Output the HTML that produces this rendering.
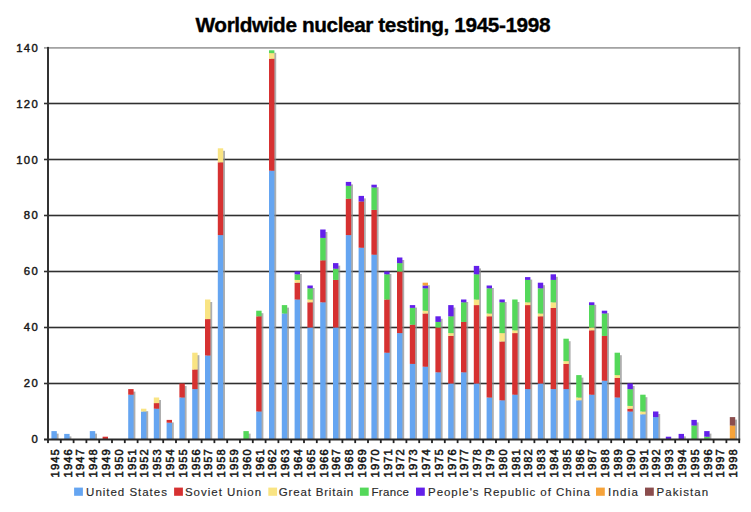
<!DOCTYPE html><html><head><meta charset="utf-8"><style>html,body{margin:0;padding:0;background:#fff;}svg{display:block;}text{font-family:"Liberation Sans",sans-serif;}</style></head><body>
<svg width="751" height="512" viewBox="0 0 751 512">
<rect width="751" height="512" fill="#fff"/>
<text x="195.5" y="31.8" font-size="20.8" font-weight="bold" fill="#000" stroke="#000" stroke-width="0.35" textLength="355" lengthAdjust="spacing">Worldwide nuclear testing, 1945-1998</text>
<rect x="44" y="382.70" width="696.20" height="1.6" fill="#303030"/>
<rect x="44" y="326.70" width="696.20" height="1.6" fill="#303030"/>
<rect x="44" y="270.70" width="696.20" height="1.6" fill="#303030"/>
<rect x="44" y="214.70" width="696.20" height="1.6" fill="#303030"/>
<rect x="44" y="158.70" width="696.20" height="1.6" fill="#303030"/>
<rect x="44" y="102.70" width="696.20" height="1.6" fill="#303030"/>
<rect x="44" y="47.10" width="696.20" height="1.6" fill="#9a9a9a"/>
<rect x="738.4" y="46.9" width="1.8" height="392.60" fill="#777"/>
<defs><clipPath id="pc"><rect x="0" y="0" width="751" height="439.50"/></clipPath><filter id="bl" x="-50%" y="-5%" width="200%" height="110%"><feGaussianBlur stdDeviation="0.6"/></filter></defs>
<g clip-path="url(#pc)">
<rect x="53.20" y="433.60" width="5.40" height="8.40" fill="#8c8c8c" opacity="0.7" filter="url(#bl)"/>
<rect x="51.40" y="431.10" width="5.40" height="8.40" fill="#65a5f1"/>
<rect x="66.00" y="436.40" width="5.40" height="5.60" fill="#8c8c8c" opacity="0.7" filter="url(#bl)"/>
<rect x="64.20" y="433.90" width="5.40" height="5.60" fill="#65a5f1"/>
<rect x="91.60" y="433.60" width="5.40" height="8.40" fill="#8c8c8c" opacity="0.7" filter="url(#bl)"/>
<rect x="89.80" y="431.10" width="5.40" height="8.40" fill="#65a5f1"/>
<rect x="104.40" y="439.20" width="5.40" height="2.80" fill="#8c8c8c" opacity="0.7" filter="url(#bl)"/>
<rect x="102.60" y="436.70" width="5.40" height="2.80" fill="#d63131"/>
<rect x="130.00" y="391.60" width="5.40" height="50.40" fill="#8c8c8c" opacity="0.7" filter="url(#bl)"/>
<rect x="128.20" y="394.70" width="5.40" height="44.80" fill="#65a5f1"/>
<rect x="128.20" y="389.10" width="5.40" height="5.60" fill="#d63131"/>
<rect x="142.80" y="411.20" width="5.40" height="30.80" fill="#8c8c8c" opacity="0.7" filter="url(#bl)"/>
<rect x="141.00" y="411.50" width="5.40" height="28.00" fill="#65a5f1"/>
<rect x="141.00" y="408.70" width="5.40" height="2.80" fill="#f9e483"/>
<rect x="155.60" y="400.00" width="5.40" height="42.00" fill="#8c8c8c" opacity="0.7" filter="url(#bl)"/>
<rect x="153.80" y="408.70" width="5.40" height="30.80" fill="#65a5f1"/>
<rect x="153.80" y="403.10" width="5.40" height="5.60" fill="#d63131"/>
<rect x="153.80" y="397.50" width="5.40" height="5.60" fill="#f9e483"/>
<rect x="168.40" y="422.40" width="5.40" height="19.60" fill="#8c8c8c" opacity="0.7" filter="url(#bl)"/>
<rect x="166.60" y="422.70" width="5.40" height="16.80" fill="#65a5f1"/>
<rect x="166.60" y="419.90" width="5.40" height="2.80" fill="#d63131"/>
<rect x="181.20" y="386.00" width="5.40" height="56.00" fill="#8c8c8c" opacity="0.7" filter="url(#bl)"/>
<rect x="179.40" y="397.50" width="5.40" height="42.00" fill="#65a5f1"/>
<rect x="179.40" y="383.50" width="5.40" height="14.00" fill="#d63131"/>
<rect x="194.00" y="355.20" width="5.40" height="86.80" fill="#8c8c8c" opacity="0.7" filter="url(#bl)"/>
<rect x="192.20" y="389.10" width="5.40" height="50.40" fill="#65a5f1"/>
<rect x="192.20" y="369.50" width="5.40" height="19.60" fill="#d63131"/>
<rect x="192.20" y="352.70" width="5.40" height="16.80" fill="#f9e483"/>
<rect x="206.80" y="302.00" width="5.40" height="140.00" fill="#8c8c8c" opacity="0.7" filter="url(#bl)"/>
<rect x="205.00" y="355.50" width="5.40" height="84.00" fill="#65a5f1"/>
<rect x="205.00" y="319.10" width="5.40" height="36.40" fill="#d63131"/>
<rect x="205.00" y="299.50" width="5.40" height="19.60" fill="#f9e483"/>
<rect x="219.60" y="150.80" width="5.40" height="291.20" fill="#8c8c8c" opacity="0.7" filter="url(#bl)"/>
<rect x="217.80" y="235.10" width="5.40" height="204.40" fill="#65a5f1"/>
<rect x="217.80" y="162.30" width="5.40" height="72.80" fill="#d63131"/>
<rect x="217.80" y="148.30" width="5.40" height="14.00" fill="#f9e483"/>
<rect x="245.20" y="433.60" width="5.40" height="8.40" fill="#8c8c8c" opacity="0.7" filter="url(#bl)"/>
<rect x="243.40" y="431.10" width="5.40" height="8.40" fill="#54d85a"/>
<rect x="258.00" y="313.20" width="5.40" height="128.80" fill="#8c8c8c" opacity="0.7" filter="url(#bl)"/>
<rect x="256.20" y="411.50" width="5.40" height="28.00" fill="#65a5f1"/>
<rect x="256.20" y="316.30" width="5.40" height="95.20" fill="#d63131"/>
<rect x="256.20" y="310.70" width="5.40" height="5.60" fill="#54d85a"/>
<rect x="270.80" y="52.80" width="5.40" height="389.20" fill="#8c8c8c" opacity="0.7" filter="url(#bl)"/>
<rect x="269.00" y="170.70" width="5.40" height="268.80" fill="#65a5f1"/>
<rect x="269.00" y="58.70" width="5.40" height="112.00" fill="#d63131"/>
<rect x="269.00" y="53.10" width="5.40" height="5.60" fill="#f9e483"/>
<rect x="269.00" y="50.30" width="5.40" height="2.80" fill="#54d85a"/>
<rect x="283.60" y="307.60" width="5.40" height="134.40" fill="#8c8c8c" opacity="0.7" filter="url(#bl)"/>
<rect x="281.80" y="313.50" width="5.40" height="126.00" fill="#65a5f1"/>
<rect x="281.80" y="305.10" width="5.40" height="8.40" fill="#54d85a"/>
<rect x="296.40" y="274.00" width="5.40" height="168.00" fill="#8c8c8c" opacity="0.7" filter="url(#bl)"/>
<rect x="294.60" y="299.50" width="5.40" height="140.00" fill="#65a5f1"/>
<rect x="294.60" y="282.70" width="5.40" height="16.80" fill="#d63131"/>
<rect x="294.60" y="279.90" width="5.40" height="2.80" fill="#f9e483"/>
<rect x="294.60" y="274.30" width="5.40" height="5.60" fill="#54d85a"/>
<rect x="294.60" y="271.50" width="5.40" height="2.80" fill="#6320ea"/>
<rect x="309.20" y="288.00" width="5.40" height="154.00" fill="#8c8c8c" opacity="0.7" filter="url(#bl)"/>
<rect x="307.40" y="327.50" width="5.40" height="112.00" fill="#65a5f1"/>
<rect x="307.40" y="302.30" width="5.40" height="25.20" fill="#d63131"/>
<rect x="307.40" y="299.50" width="5.40" height="2.80" fill="#f9e483"/>
<rect x="307.40" y="288.30" width="5.40" height="11.20" fill="#54d85a"/>
<rect x="307.40" y="285.50" width="5.40" height="2.80" fill="#6320ea"/>
<rect x="322.00" y="232.00" width="5.40" height="210.00" fill="#8c8c8c" opacity="0.7" filter="url(#bl)"/>
<rect x="320.20" y="302.30" width="5.40" height="137.20" fill="#65a5f1"/>
<rect x="320.20" y="260.30" width="5.40" height="42.00" fill="#d63131"/>
<rect x="320.20" y="237.90" width="5.40" height="22.40" fill="#54d85a"/>
<rect x="320.20" y="229.50" width="5.40" height="8.40" fill="#6320ea"/>
<rect x="334.80" y="265.60" width="5.40" height="176.40" fill="#8c8c8c" opacity="0.7" filter="url(#bl)"/>
<rect x="333.00" y="327.50" width="5.40" height="112.00" fill="#65a5f1"/>
<rect x="333.00" y="279.90" width="5.40" height="47.60" fill="#d63131"/>
<rect x="333.00" y="268.70" width="5.40" height="11.20" fill="#54d85a"/>
<rect x="333.00" y="263.10" width="5.40" height="5.60" fill="#6320ea"/>
<rect x="347.60" y="184.40" width="5.40" height="257.60" fill="#8c8c8c" opacity="0.7" filter="url(#bl)"/>
<rect x="345.80" y="235.10" width="5.40" height="204.40" fill="#65a5f1"/>
<rect x="345.80" y="198.70" width="5.40" height="36.40" fill="#d63131"/>
<rect x="345.80" y="185.82" width="5.40" height="12.88" fill="#54d85a"/>
<rect x="345.80" y="181.90" width="5.40" height="3.92" fill="#6320ea"/>
<rect x="360.40" y="198.40" width="5.40" height="243.60" fill="#8c8c8c" opacity="0.7" filter="url(#bl)"/>
<rect x="358.60" y="247.70" width="5.40" height="191.80" fill="#65a5f1"/>
<rect x="358.60" y="201.50" width="5.40" height="46.20" fill="#d63131"/>
<rect x="358.60" y="195.90" width="5.40" height="5.60" fill="#6320ea"/>
<rect x="373.20" y="187.20" width="5.40" height="254.80" fill="#8c8c8c" opacity="0.7" filter="url(#bl)"/>
<rect x="371.40" y="254.70" width="5.40" height="184.80" fill="#65a5f1"/>
<rect x="371.40" y="209.90" width="5.40" height="44.80" fill="#d63131"/>
<rect x="371.40" y="187.50" width="5.40" height="22.40" fill="#54d85a"/>
<rect x="371.40" y="184.70" width="5.40" height="2.80" fill="#6320ea"/>
<rect x="386.00" y="274.00" width="5.40" height="168.00" fill="#8c8c8c" opacity="0.7" filter="url(#bl)"/>
<rect x="384.20" y="352.70" width="5.40" height="86.80" fill="#65a5f1"/>
<rect x="384.20" y="299.50" width="5.40" height="53.20" fill="#d63131"/>
<rect x="384.20" y="274.30" width="5.40" height="25.20" fill="#54d85a"/>
<rect x="384.20" y="271.50" width="5.40" height="2.80" fill="#6320ea"/>
<rect x="398.80" y="260.00" width="5.40" height="182.00" fill="#8c8c8c" opacity="0.7" filter="url(#bl)"/>
<rect x="397.00" y="333.10" width="5.40" height="106.40" fill="#65a5f1"/>
<rect x="397.00" y="271.50" width="5.40" height="61.60" fill="#d63131"/>
<rect x="397.00" y="263.10" width="5.40" height="8.40" fill="#54d85a"/>
<rect x="397.00" y="257.50" width="5.40" height="5.60" fill="#6320ea"/>
<rect x="411.60" y="307.60" width="5.40" height="134.40" fill="#8c8c8c" opacity="0.7" filter="url(#bl)"/>
<rect x="409.80" y="363.90" width="5.40" height="75.60" fill="#65a5f1"/>
<rect x="409.80" y="324.70" width="5.40" height="39.20" fill="#d63131"/>
<rect x="409.80" y="307.90" width="5.40" height="16.80" fill="#54d85a"/>
<rect x="409.80" y="305.10" width="5.40" height="2.80" fill="#6320ea"/>
<rect x="424.40" y="285.20" width="5.40" height="156.80" fill="#8c8c8c" opacity="0.7" filter="url(#bl)"/>
<rect x="422.60" y="366.70" width="5.40" height="72.80" fill="#65a5f1"/>
<rect x="422.60" y="313.50" width="5.40" height="53.20" fill="#d63131"/>
<rect x="422.60" y="310.70" width="5.40" height="2.80" fill="#f9e483"/>
<rect x="422.60" y="288.30" width="5.40" height="22.40" fill="#54d85a"/>
<rect x="422.60" y="285.50" width="5.40" height="2.80" fill="#6320ea"/>
<rect x="422.60" y="282.70" width="5.40" height="2.80" fill="#f6a33a"/>
<rect x="437.20" y="318.80" width="5.40" height="123.20" fill="#8c8c8c" opacity="0.7" filter="url(#bl)"/>
<rect x="435.40" y="372.30" width="5.40" height="67.20" fill="#65a5f1"/>
<rect x="435.40" y="327.50" width="5.40" height="44.80" fill="#d63131"/>
<rect x="435.40" y="321.90" width="5.40" height="5.60" fill="#54d85a"/>
<rect x="435.40" y="316.30" width="5.40" height="5.60" fill="#6320ea"/>
<rect x="450.00" y="307.60" width="5.40" height="134.40" fill="#8c8c8c" opacity="0.7" filter="url(#bl)"/>
<rect x="448.20" y="383.50" width="5.40" height="56.00" fill="#65a5f1"/>
<rect x="448.20" y="335.90" width="5.40" height="47.60" fill="#d63131"/>
<rect x="448.20" y="333.10" width="5.40" height="2.80" fill="#f9e483"/>
<rect x="448.20" y="316.30" width="5.40" height="16.80" fill="#54d85a"/>
<rect x="448.20" y="305.10" width="5.40" height="11.20" fill="#6320ea"/>
<rect x="462.80" y="302.00" width="5.40" height="140.00" fill="#8c8c8c" opacity="0.7" filter="url(#bl)"/>
<rect x="461.00" y="372.30" width="5.40" height="67.20" fill="#65a5f1"/>
<rect x="461.00" y="321.90" width="5.40" height="50.40" fill="#d63131"/>
<rect x="461.00" y="302.30" width="5.40" height="19.60" fill="#54d85a"/>
<rect x="461.00" y="299.50" width="5.40" height="2.80" fill="#6320ea"/>
<rect x="475.60" y="268.40" width="5.40" height="173.60" fill="#8c8c8c" opacity="0.7" filter="url(#bl)"/>
<rect x="473.80" y="383.50" width="5.40" height="56.00" fill="#65a5f1"/>
<rect x="473.80" y="305.10" width="5.40" height="78.40" fill="#d63131"/>
<rect x="473.80" y="299.50" width="5.40" height="5.60" fill="#f9e483"/>
<rect x="473.80" y="274.30" width="5.40" height="25.20" fill="#54d85a"/>
<rect x="473.80" y="265.90" width="5.40" height="8.40" fill="#6320ea"/>
<rect x="488.40" y="288.00" width="5.40" height="154.00" fill="#8c8c8c" opacity="0.7" filter="url(#bl)"/>
<rect x="486.60" y="397.50" width="5.40" height="42.00" fill="#65a5f1"/>
<rect x="486.60" y="316.30" width="5.40" height="81.20" fill="#d63131"/>
<rect x="486.60" y="313.50" width="5.40" height="2.80" fill="#f9e483"/>
<rect x="486.60" y="288.30" width="5.40" height="25.20" fill="#54d85a"/>
<rect x="486.60" y="285.50" width="5.40" height="2.80" fill="#6320ea"/>
<rect x="501.20" y="302.00" width="5.40" height="140.00" fill="#8c8c8c" opacity="0.7" filter="url(#bl)"/>
<rect x="499.40" y="400.30" width="5.40" height="39.20" fill="#65a5f1"/>
<rect x="499.40" y="341.50" width="5.40" height="58.80" fill="#d63131"/>
<rect x="499.40" y="333.10" width="5.40" height="8.40" fill="#f9e483"/>
<rect x="499.40" y="302.30" width="5.40" height="30.80" fill="#54d85a"/>
<rect x="499.40" y="299.50" width="5.40" height="2.80" fill="#6320ea"/>
<rect x="514.00" y="302.00" width="5.40" height="140.00" fill="#8c8c8c" opacity="0.7" filter="url(#bl)"/>
<rect x="512.20" y="394.70" width="5.40" height="44.80" fill="#65a5f1"/>
<rect x="512.20" y="333.10" width="5.40" height="61.60" fill="#d63131"/>
<rect x="512.20" y="330.30" width="5.40" height="2.80" fill="#f9e483"/>
<rect x="512.20" y="299.50" width="5.40" height="30.80" fill="#54d85a"/>
<rect x="526.80" y="279.60" width="5.40" height="162.40" fill="#8c8c8c" opacity="0.7" filter="url(#bl)"/>
<rect x="525.00" y="389.10" width="5.40" height="50.40" fill="#65a5f1"/>
<rect x="525.00" y="305.10" width="5.40" height="84.00" fill="#d63131"/>
<rect x="525.00" y="302.30" width="5.40" height="2.80" fill="#f9e483"/>
<rect x="525.00" y="279.90" width="5.40" height="22.40" fill="#54d85a"/>
<rect x="525.00" y="277.10" width="5.40" height="2.80" fill="#6320ea"/>
<rect x="539.60" y="285.20" width="5.40" height="156.80" fill="#8c8c8c" opacity="0.7" filter="url(#bl)"/>
<rect x="537.80" y="383.50" width="5.40" height="56.00" fill="#65a5f1"/>
<rect x="537.80" y="316.30" width="5.40" height="67.20" fill="#d63131"/>
<rect x="537.80" y="313.50" width="5.40" height="2.80" fill="#f9e483"/>
<rect x="537.80" y="288.30" width="5.40" height="25.20" fill="#54d85a"/>
<rect x="537.80" y="282.70" width="5.40" height="5.60" fill="#6320ea"/>
<rect x="552.40" y="276.80" width="5.40" height="165.20" fill="#8c8c8c" opacity="0.7" filter="url(#bl)"/>
<rect x="550.60" y="389.10" width="5.40" height="50.40" fill="#65a5f1"/>
<rect x="550.60" y="307.90" width="5.40" height="81.20" fill="#d63131"/>
<rect x="550.60" y="302.30" width="5.40" height="5.60" fill="#f9e483"/>
<rect x="550.60" y="279.90" width="5.40" height="22.40" fill="#54d85a"/>
<rect x="550.60" y="274.30" width="5.40" height="5.60" fill="#6320ea"/>
<rect x="565.20" y="341.20" width="5.40" height="100.80" fill="#8c8c8c" opacity="0.7" filter="url(#bl)"/>
<rect x="563.40" y="389.10" width="5.40" height="50.40" fill="#65a5f1"/>
<rect x="563.40" y="363.90" width="5.40" height="25.20" fill="#d63131"/>
<rect x="563.40" y="361.10" width="5.40" height="2.80" fill="#f9e483"/>
<rect x="563.40" y="338.70" width="5.40" height="22.40" fill="#54d85a"/>
<rect x="578.00" y="377.60" width="5.40" height="64.40" fill="#8c8c8c" opacity="0.7" filter="url(#bl)"/>
<rect x="576.20" y="400.30" width="5.40" height="39.20" fill="#65a5f1"/>
<rect x="576.20" y="397.50" width="5.40" height="2.80" fill="#f9e483"/>
<rect x="576.20" y="375.10" width="5.40" height="22.40" fill="#54d85a"/>
<rect x="590.80" y="304.80" width="5.40" height="137.20" fill="#8c8c8c" opacity="0.7" filter="url(#bl)"/>
<rect x="589.00" y="394.70" width="5.40" height="44.80" fill="#65a5f1"/>
<rect x="589.00" y="330.30" width="5.40" height="64.40" fill="#d63131"/>
<rect x="589.00" y="327.50" width="5.40" height="2.80" fill="#f9e483"/>
<rect x="589.00" y="305.10" width="5.40" height="22.40" fill="#54d85a"/>
<rect x="589.00" y="302.30" width="5.40" height="2.80" fill="#6320ea"/>
<rect x="603.60" y="313.20" width="5.40" height="128.80" fill="#8c8c8c" opacity="0.7" filter="url(#bl)"/>
<rect x="601.80" y="380.70" width="5.40" height="58.80" fill="#65a5f1"/>
<rect x="601.80" y="335.90" width="5.40" height="44.80" fill="#d63131"/>
<rect x="601.80" y="313.50" width="5.40" height="22.40" fill="#54d85a"/>
<rect x="601.80" y="310.70" width="5.40" height="2.80" fill="#6320ea"/>
<rect x="616.40" y="355.20" width="5.40" height="86.80" fill="#8c8c8c" opacity="0.7" filter="url(#bl)"/>
<rect x="614.60" y="397.50" width="5.40" height="42.00" fill="#65a5f1"/>
<rect x="614.60" y="377.90" width="5.40" height="19.60" fill="#d63131"/>
<rect x="614.60" y="375.10" width="5.40" height="2.80" fill="#f9e483"/>
<rect x="614.60" y="352.70" width="5.40" height="22.40" fill="#54d85a"/>
<rect x="629.20" y="386.00" width="5.40" height="56.00" fill="#8c8c8c" opacity="0.7" filter="url(#bl)"/>
<rect x="627.40" y="411.50" width="5.40" height="28.00" fill="#65a5f1"/>
<rect x="627.40" y="408.70" width="5.40" height="2.80" fill="#d63131"/>
<rect x="627.40" y="405.90" width="5.40" height="2.80" fill="#f9e483"/>
<rect x="627.40" y="389.10" width="5.40" height="16.80" fill="#54d85a"/>
<rect x="627.40" y="383.50" width="5.40" height="5.60" fill="#6320ea"/>
<rect x="642.00" y="397.20" width="5.40" height="44.80" fill="#8c8c8c" opacity="0.7" filter="url(#bl)"/>
<rect x="640.20" y="414.30" width="5.40" height="25.20" fill="#65a5f1"/>
<rect x="640.20" y="411.50" width="5.40" height="2.80" fill="#f9e483"/>
<rect x="640.20" y="394.70" width="5.40" height="16.80" fill="#54d85a"/>
<rect x="654.80" y="414.00" width="5.40" height="28.00" fill="#8c8c8c" opacity="0.7" filter="url(#bl)"/>
<rect x="653.00" y="417.10" width="5.40" height="22.40" fill="#65a5f1"/>
<rect x="653.00" y="411.50" width="5.40" height="5.60" fill="#6320ea"/>
<rect x="667.60" y="439.20" width="5.40" height="2.80" fill="#8c8c8c" opacity="0.7" filter="url(#bl)"/>
<rect x="665.80" y="436.70" width="5.40" height="2.80" fill="#6320ea"/>
<rect x="680.40" y="436.40" width="5.40" height="5.60" fill="#8c8c8c" opacity="0.7" filter="url(#bl)"/>
<rect x="678.60" y="433.90" width="5.40" height="5.60" fill="#6320ea"/>
<rect x="693.20" y="422.40" width="5.40" height="19.60" fill="#8c8c8c" opacity="0.7" filter="url(#bl)"/>
<rect x="691.40" y="425.50" width="5.40" height="14.00" fill="#54d85a"/>
<rect x="691.40" y="419.90" width="5.40" height="5.60" fill="#6320ea"/>
<rect x="706.00" y="433.60" width="5.40" height="8.40" fill="#8c8c8c" opacity="0.7" filter="url(#bl)"/>
<rect x="704.20" y="436.70" width="5.40" height="2.80" fill="#54d85a"/>
<rect x="704.20" y="431.10" width="5.40" height="5.60" fill="#6320ea"/>
<rect x="731.60" y="419.60" width="5.40" height="22.40" fill="#8c8c8c" opacity="0.7" filter="url(#bl)"/>
<rect x="729.80" y="425.50" width="5.40" height="14.00" fill="#f6a33a"/>
<rect x="729.80" y="417.10" width="5.40" height="8.40" fill="#8b4d4d"/>
</g>
<rect x="44" y="438.50" width="696.20" height="2" fill="#2a2a2a"/>
<rect x="47" y="46.9" width="2" height="393.60" fill="#333"/>
<rect x="47.10" y="439.50" width="1.8" height="3.6" fill="#222"/>
<rect x="59.90" y="439.50" width="1.8" height="3.6" fill="#222"/>
<rect x="72.70" y="439.50" width="1.8" height="3.6" fill="#222"/>
<rect x="85.50" y="439.50" width="1.8" height="3.6" fill="#222"/>
<rect x="98.30" y="439.50" width="1.8" height="3.6" fill="#222"/>
<rect x="111.10" y="439.50" width="1.8" height="3.6" fill="#222"/>
<rect x="123.90" y="439.50" width="1.8" height="3.6" fill="#222"/>
<rect x="136.70" y="439.50" width="1.8" height="3.6" fill="#222"/>
<rect x="149.50" y="439.50" width="1.8" height="3.6" fill="#222"/>
<rect x="162.30" y="439.50" width="1.8" height="3.6" fill="#222"/>
<rect x="175.10" y="439.50" width="1.8" height="3.6" fill="#222"/>
<rect x="187.90" y="439.50" width="1.8" height="3.6" fill="#222"/>
<rect x="200.70" y="439.50" width="1.8" height="3.6" fill="#222"/>
<rect x="213.50" y="439.50" width="1.8" height="3.6" fill="#222"/>
<rect x="226.30" y="439.50" width="1.8" height="3.6" fill="#222"/>
<rect x="239.10" y="439.50" width="1.8" height="3.6" fill="#222"/>
<rect x="251.90" y="439.50" width="1.8" height="3.6" fill="#222"/>
<rect x="264.70" y="439.50" width="1.8" height="3.6" fill="#222"/>
<rect x="277.50" y="439.50" width="1.8" height="3.6" fill="#222"/>
<rect x="290.30" y="439.50" width="1.8" height="3.6" fill="#222"/>
<rect x="303.10" y="439.50" width="1.8" height="3.6" fill="#222"/>
<rect x="315.90" y="439.50" width="1.8" height="3.6" fill="#222"/>
<rect x="328.70" y="439.50" width="1.8" height="3.6" fill="#222"/>
<rect x="341.50" y="439.50" width="1.8" height="3.6" fill="#222"/>
<rect x="354.30" y="439.50" width="1.8" height="3.6" fill="#222"/>
<rect x="367.10" y="439.50" width="1.8" height="3.6" fill="#222"/>
<rect x="379.90" y="439.50" width="1.8" height="3.6" fill="#222"/>
<rect x="392.70" y="439.50" width="1.8" height="3.6" fill="#222"/>
<rect x="405.50" y="439.50" width="1.8" height="3.6" fill="#222"/>
<rect x="418.30" y="439.50" width="1.8" height="3.6" fill="#222"/>
<rect x="431.10" y="439.50" width="1.8" height="3.6" fill="#222"/>
<rect x="443.90" y="439.50" width="1.8" height="3.6" fill="#222"/>
<rect x="456.70" y="439.50" width="1.8" height="3.6" fill="#222"/>
<rect x="469.50" y="439.50" width="1.8" height="3.6" fill="#222"/>
<rect x="482.30" y="439.50" width="1.8" height="3.6" fill="#222"/>
<rect x="495.10" y="439.50" width="1.8" height="3.6" fill="#222"/>
<rect x="507.90" y="439.50" width="1.8" height="3.6" fill="#222"/>
<rect x="520.70" y="439.50" width="1.8" height="3.6" fill="#222"/>
<rect x="533.50" y="439.50" width="1.8" height="3.6" fill="#222"/>
<rect x="546.30" y="439.50" width="1.8" height="3.6" fill="#222"/>
<rect x="559.10" y="439.50" width="1.8" height="3.6" fill="#222"/>
<rect x="571.90" y="439.50" width="1.8" height="3.6" fill="#222"/>
<rect x="584.70" y="439.50" width="1.8" height="3.6" fill="#222"/>
<rect x="597.50" y="439.50" width="1.8" height="3.6" fill="#222"/>
<rect x="610.30" y="439.50" width="1.8" height="3.6" fill="#222"/>
<rect x="623.10" y="439.50" width="1.8" height="3.6" fill="#222"/>
<rect x="635.90" y="439.50" width="1.8" height="3.6" fill="#222"/>
<rect x="648.70" y="439.50" width="1.8" height="3.6" fill="#222"/>
<rect x="661.50" y="439.50" width="1.8" height="3.6" fill="#222"/>
<rect x="674.30" y="439.50" width="1.8" height="3.6" fill="#222"/>
<rect x="687.10" y="439.50" width="1.8" height="3.6" fill="#222"/>
<rect x="699.90" y="439.50" width="1.8" height="3.6" fill="#222"/>
<rect x="712.70" y="439.50" width="1.8" height="3.6" fill="#222"/>
<rect x="725.50" y="439.50" width="1.8" height="3.6" fill="#222"/>
<rect x="738.30" y="439.50" width="1.8" height="3.6" fill="#222"/>
<text x="39.0" y="442.80" font-size="11.3" fill="#1a1a1a" stroke="#1a1a1a" stroke-width="0.45" text-anchor="end" letter-spacing="1.3">0</text>
<text x="39.0" y="386.80" font-size="11.3" fill="#1a1a1a" stroke="#1a1a1a" stroke-width="0.45" text-anchor="end" letter-spacing="1.3">20</text>
<text x="39.0" y="330.80" font-size="11.3" fill="#1a1a1a" stroke="#1a1a1a" stroke-width="0.45" text-anchor="end" letter-spacing="1.3">40</text>
<text x="39.0" y="274.80" font-size="11.3" fill="#1a1a1a" stroke="#1a1a1a" stroke-width="0.45" text-anchor="end" letter-spacing="1.3">60</text>
<text x="39.0" y="218.80" font-size="11.3" fill="#1a1a1a" stroke="#1a1a1a" stroke-width="0.45" text-anchor="end" letter-spacing="1.3">80</text>
<text x="39.0" y="163.60" font-size="11.3" fill="#1a1a1a" stroke="#1a1a1a" stroke-width="0.45" text-anchor="end" letter-spacing="1.3">100</text>
<text x="39.0" y="107.60" font-size="11.3" fill="#1a1a1a" stroke="#1a1a1a" stroke-width="0.45" text-anchor="end" letter-spacing="1.3">120</text>
<text x="39.0" y="51.60" font-size="11.3" fill="#1a1a1a" stroke="#1a1a1a" stroke-width="0.45" text-anchor="end" letter-spacing="1.3">140</text>
<text transform="translate(58.80,477.40) rotate(-90)" x="0" y="0" font-size="11.1" fill="#1a1a1a" stroke="#1a1a1a" stroke-width="0.55" textLength="28.2" lengthAdjust="spacing">1945</text>
<text transform="translate(71.60,477.40) rotate(-90)" x="0" y="0" font-size="11.1" fill="#1a1a1a" stroke="#1a1a1a" stroke-width="0.55" textLength="28.2" lengthAdjust="spacing">1946</text>
<text transform="translate(84.40,477.40) rotate(-90)" x="0" y="0" font-size="11.1" fill="#1a1a1a" stroke="#1a1a1a" stroke-width="0.55" textLength="28.2" lengthAdjust="spacing">1947</text>
<text transform="translate(97.20,477.40) rotate(-90)" x="0" y="0" font-size="11.1" fill="#1a1a1a" stroke="#1a1a1a" stroke-width="0.55" textLength="28.2" lengthAdjust="spacing">1948</text>
<text transform="translate(110.00,477.40) rotate(-90)" x="0" y="0" font-size="11.1" fill="#1a1a1a" stroke="#1a1a1a" stroke-width="0.55" textLength="28.2" lengthAdjust="spacing">1949</text>
<text transform="translate(122.80,477.40) rotate(-90)" x="0" y="0" font-size="11.1" fill="#1a1a1a" stroke="#1a1a1a" stroke-width="0.55" textLength="28.2" lengthAdjust="spacing">1950</text>
<text transform="translate(135.60,477.40) rotate(-90)" x="0" y="0" font-size="11.1" fill="#1a1a1a" stroke="#1a1a1a" stroke-width="0.55" textLength="28.2" lengthAdjust="spacing">1951</text>
<text transform="translate(148.40,477.40) rotate(-90)" x="0" y="0" font-size="11.1" fill="#1a1a1a" stroke="#1a1a1a" stroke-width="0.55" textLength="28.2" lengthAdjust="spacing">1952</text>
<text transform="translate(161.20,477.40) rotate(-90)" x="0" y="0" font-size="11.1" fill="#1a1a1a" stroke="#1a1a1a" stroke-width="0.55" textLength="28.2" lengthAdjust="spacing">1953</text>
<text transform="translate(174.00,477.40) rotate(-90)" x="0" y="0" font-size="11.1" fill="#1a1a1a" stroke="#1a1a1a" stroke-width="0.55" textLength="28.2" lengthAdjust="spacing">1954</text>
<text transform="translate(186.80,477.40) rotate(-90)" x="0" y="0" font-size="11.1" fill="#1a1a1a" stroke="#1a1a1a" stroke-width="0.55" textLength="28.2" lengthAdjust="spacing">1955</text>
<text transform="translate(199.60,477.40) rotate(-90)" x="0" y="0" font-size="11.1" fill="#1a1a1a" stroke="#1a1a1a" stroke-width="0.55" textLength="28.2" lengthAdjust="spacing">1956</text>
<text transform="translate(212.40,477.40) rotate(-90)" x="0" y="0" font-size="11.1" fill="#1a1a1a" stroke="#1a1a1a" stroke-width="0.55" textLength="28.2" lengthAdjust="spacing">1957</text>
<text transform="translate(225.20,477.40) rotate(-90)" x="0" y="0" font-size="11.1" fill="#1a1a1a" stroke="#1a1a1a" stroke-width="0.55" textLength="28.2" lengthAdjust="spacing">1958</text>
<text transform="translate(238.00,477.40) rotate(-90)" x="0" y="0" font-size="11.1" fill="#1a1a1a" stroke="#1a1a1a" stroke-width="0.55" textLength="28.2" lengthAdjust="spacing">1959</text>
<text transform="translate(250.80,477.40) rotate(-90)" x="0" y="0" font-size="11.1" fill="#1a1a1a" stroke="#1a1a1a" stroke-width="0.55" textLength="28.2" lengthAdjust="spacing">1960</text>
<text transform="translate(263.60,477.40) rotate(-90)" x="0" y="0" font-size="11.1" fill="#1a1a1a" stroke="#1a1a1a" stroke-width="0.55" textLength="28.2" lengthAdjust="spacing">1961</text>
<text transform="translate(276.40,477.40) rotate(-90)" x="0" y="0" font-size="11.1" fill="#1a1a1a" stroke="#1a1a1a" stroke-width="0.55" textLength="28.2" lengthAdjust="spacing">1962</text>
<text transform="translate(289.20,477.40) rotate(-90)" x="0" y="0" font-size="11.1" fill="#1a1a1a" stroke="#1a1a1a" stroke-width="0.55" textLength="28.2" lengthAdjust="spacing">1963</text>
<text transform="translate(302.00,477.40) rotate(-90)" x="0" y="0" font-size="11.1" fill="#1a1a1a" stroke="#1a1a1a" stroke-width="0.55" textLength="28.2" lengthAdjust="spacing">1964</text>
<text transform="translate(314.80,477.40) rotate(-90)" x="0" y="0" font-size="11.1" fill="#1a1a1a" stroke="#1a1a1a" stroke-width="0.55" textLength="28.2" lengthAdjust="spacing">1965</text>
<text transform="translate(327.60,477.40) rotate(-90)" x="0" y="0" font-size="11.1" fill="#1a1a1a" stroke="#1a1a1a" stroke-width="0.55" textLength="28.2" lengthAdjust="spacing">1966</text>
<text transform="translate(340.40,477.40) rotate(-90)" x="0" y="0" font-size="11.1" fill="#1a1a1a" stroke="#1a1a1a" stroke-width="0.55" textLength="28.2" lengthAdjust="spacing">1967</text>
<text transform="translate(353.20,477.40) rotate(-90)" x="0" y="0" font-size="11.1" fill="#1a1a1a" stroke="#1a1a1a" stroke-width="0.55" textLength="28.2" lengthAdjust="spacing">1968</text>
<text transform="translate(366.00,477.40) rotate(-90)" x="0" y="0" font-size="11.1" fill="#1a1a1a" stroke="#1a1a1a" stroke-width="0.55" textLength="28.2" lengthAdjust="spacing">1969</text>
<text transform="translate(378.80,477.40) rotate(-90)" x="0" y="0" font-size="11.1" fill="#1a1a1a" stroke="#1a1a1a" stroke-width="0.55" textLength="28.2" lengthAdjust="spacing">1970</text>
<text transform="translate(391.60,477.40) rotate(-90)" x="0" y="0" font-size="11.1" fill="#1a1a1a" stroke="#1a1a1a" stroke-width="0.55" textLength="28.2" lengthAdjust="spacing">1971</text>
<text transform="translate(404.40,477.40) rotate(-90)" x="0" y="0" font-size="11.1" fill="#1a1a1a" stroke="#1a1a1a" stroke-width="0.55" textLength="28.2" lengthAdjust="spacing">1972</text>
<text transform="translate(417.20,477.40) rotate(-90)" x="0" y="0" font-size="11.1" fill="#1a1a1a" stroke="#1a1a1a" stroke-width="0.55" textLength="28.2" lengthAdjust="spacing">1973</text>
<text transform="translate(430.00,477.40) rotate(-90)" x="0" y="0" font-size="11.1" fill="#1a1a1a" stroke="#1a1a1a" stroke-width="0.55" textLength="28.2" lengthAdjust="spacing">1974</text>
<text transform="translate(442.80,477.40) rotate(-90)" x="0" y="0" font-size="11.1" fill="#1a1a1a" stroke="#1a1a1a" stroke-width="0.55" textLength="28.2" lengthAdjust="spacing">1975</text>
<text transform="translate(455.60,477.40) rotate(-90)" x="0" y="0" font-size="11.1" fill="#1a1a1a" stroke="#1a1a1a" stroke-width="0.55" textLength="28.2" lengthAdjust="spacing">1976</text>
<text transform="translate(468.40,477.40) rotate(-90)" x="0" y="0" font-size="11.1" fill="#1a1a1a" stroke="#1a1a1a" stroke-width="0.55" textLength="28.2" lengthAdjust="spacing">1977</text>
<text transform="translate(481.20,477.40) rotate(-90)" x="0" y="0" font-size="11.1" fill="#1a1a1a" stroke="#1a1a1a" stroke-width="0.55" textLength="28.2" lengthAdjust="spacing">1978</text>
<text transform="translate(494.00,477.40) rotate(-90)" x="0" y="0" font-size="11.1" fill="#1a1a1a" stroke="#1a1a1a" stroke-width="0.55" textLength="28.2" lengthAdjust="spacing">1979</text>
<text transform="translate(506.80,477.40) rotate(-90)" x="0" y="0" font-size="11.1" fill="#1a1a1a" stroke="#1a1a1a" stroke-width="0.55" textLength="28.2" lengthAdjust="spacing">1980</text>
<text transform="translate(519.60,477.40) rotate(-90)" x="0" y="0" font-size="11.1" fill="#1a1a1a" stroke="#1a1a1a" stroke-width="0.55" textLength="28.2" lengthAdjust="spacing">1981</text>
<text transform="translate(532.40,477.40) rotate(-90)" x="0" y="0" font-size="11.1" fill="#1a1a1a" stroke="#1a1a1a" stroke-width="0.55" textLength="28.2" lengthAdjust="spacing">1982</text>
<text transform="translate(545.20,477.40) rotate(-90)" x="0" y="0" font-size="11.1" fill="#1a1a1a" stroke="#1a1a1a" stroke-width="0.55" textLength="28.2" lengthAdjust="spacing">1983</text>
<text transform="translate(558.00,477.40) rotate(-90)" x="0" y="0" font-size="11.1" fill="#1a1a1a" stroke="#1a1a1a" stroke-width="0.55" textLength="28.2" lengthAdjust="spacing">1984</text>
<text transform="translate(570.80,477.40) rotate(-90)" x="0" y="0" font-size="11.1" fill="#1a1a1a" stroke="#1a1a1a" stroke-width="0.55" textLength="28.2" lengthAdjust="spacing">1985</text>
<text transform="translate(583.60,477.40) rotate(-90)" x="0" y="0" font-size="11.1" fill="#1a1a1a" stroke="#1a1a1a" stroke-width="0.55" textLength="28.2" lengthAdjust="spacing">1986</text>
<text transform="translate(596.40,477.40) rotate(-90)" x="0" y="0" font-size="11.1" fill="#1a1a1a" stroke="#1a1a1a" stroke-width="0.55" textLength="28.2" lengthAdjust="spacing">1987</text>
<text transform="translate(609.20,477.40) rotate(-90)" x="0" y="0" font-size="11.1" fill="#1a1a1a" stroke="#1a1a1a" stroke-width="0.55" textLength="28.2" lengthAdjust="spacing">1988</text>
<text transform="translate(622.00,477.40) rotate(-90)" x="0" y="0" font-size="11.1" fill="#1a1a1a" stroke="#1a1a1a" stroke-width="0.55" textLength="28.2" lengthAdjust="spacing">1989</text>
<text transform="translate(634.80,477.40) rotate(-90)" x="0" y="0" font-size="11.1" fill="#1a1a1a" stroke="#1a1a1a" stroke-width="0.55" textLength="28.2" lengthAdjust="spacing">1990</text>
<text transform="translate(647.60,477.40) rotate(-90)" x="0" y="0" font-size="11.1" fill="#1a1a1a" stroke="#1a1a1a" stroke-width="0.55" textLength="28.2" lengthAdjust="spacing">1991</text>
<text transform="translate(660.40,477.40) rotate(-90)" x="0" y="0" font-size="11.1" fill="#1a1a1a" stroke="#1a1a1a" stroke-width="0.55" textLength="28.2" lengthAdjust="spacing">1992</text>
<text transform="translate(673.20,477.40) rotate(-90)" x="0" y="0" font-size="11.1" fill="#1a1a1a" stroke="#1a1a1a" stroke-width="0.55" textLength="28.2" lengthAdjust="spacing">1993</text>
<text transform="translate(686.00,477.40) rotate(-90)" x="0" y="0" font-size="11.1" fill="#1a1a1a" stroke="#1a1a1a" stroke-width="0.55" textLength="28.2" lengthAdjust="spacing">1994</text>
<text transform="translate(698.80,477.40) rotate(-90)" x="0" y="0" font-size="11.1" fill="#1a1a1a" stroke="#1a1a1a" stroke-width="0.55" textLength="28.2" lengthAdjust="spacing">1995</text>
<text transform="translate(711.60,477.40) rotate(-90)" x="0" y="0" font-size="11.1" fill="#1a1a1a" stroke="#1a1a1a" stroke-width="0.55" textLength="28.2" lengthAdjust="spacing">1996</text>
<text transform="translate(724.40,477.40) rotate(-90)" x="0" y="0" font-size="11.1" fill="#1a1a1a" stroke="#1a1a1a" stroke-width="0.55" textLength="28.2" lengthAdjust="spacing">1997</text>
<text transform="translate(737.20,477.40) rotate(-90)" x="0" y="0" font-size="11.1" fill="#1a1a1a" stroke="#1a1a1a" stroke-width="0.55" textLength="28.2" lengthAdjust="spacing">1998</text>
<rect x="74.10" y="487.6" width="8.8" height="8.2" fill="#65a5f1"/>
<text x="86.10" y="495.5" font-size="11.5" fill="#2a2a2a" stroke="#2a2a2a" stroke-width="0.15" textLength="80.80" lengthAdjust="spacing">United States</text>
<rect x="174.10" y="487.6" width="8.8" height="8.2" fill="#d63131"/>
<text x="184.90" y="495.5" font-size="11.5" fill="#2a2a2a" stroke="#2a2a2a" stroke-width="0.15" textLength="76.20" lengthAdjust="spacing">Soviet Union</text>
<rect x="268.30" y="487.6" width="8.8" height="8.2" fill="#f9e483"/>
<text x="278.80" y="495.5" font-size="11.5" fill="#2a2a2a" stroke="#2a2a2a" stroke-width="0.15" textLength="74.40" lengthAdjust="spacing">Great Britain</text>
<rect x="359.90" y="487.6" width="8.8" height="8.2" fill="#54d85a"/>
<text x="371.40" y="495.5" font-size="11.5" fill="#2a2a2a" stroke="#2a2a2a" stroke-width="0.15" textLength="37.60" lengthAdjust="spacing">France</text>
<rect x="416.00" y="487.6" width="8.8" height="8.2" fill="#6320ea"/>
<text x="428.00" y="495.5" font-size="11.5" fill="#2a2a2a" stroke="#2a2a2a" stroke-width="0.15" textLength="162.00" lengthAdjust="spacing">People&#39;s Republic of China</text>
<rect x="596.00" y="487.6" width="8.8" height="8.2" fill="#f6a33a"/>
<text x="608.00" y="495.5" font-size="11.5" fill="#2a2a2a" stroke="#2a2a2a" stroke-width="0.15" textLength="30.00" lengthAdjust="spacing">India</text>
<rect x="645.00" y="487.6" width="8.8" height="8.2" fill="#8b4d4d"/>
<text x="656.60" y="495.5" font-size="11.5" fill="#2a2a2a" stroke="#2a2a2a" stroke-width="0.15" textLength="51.60" lengthAdjust="spacing">Pakistan</text>
</svg></body></html>
